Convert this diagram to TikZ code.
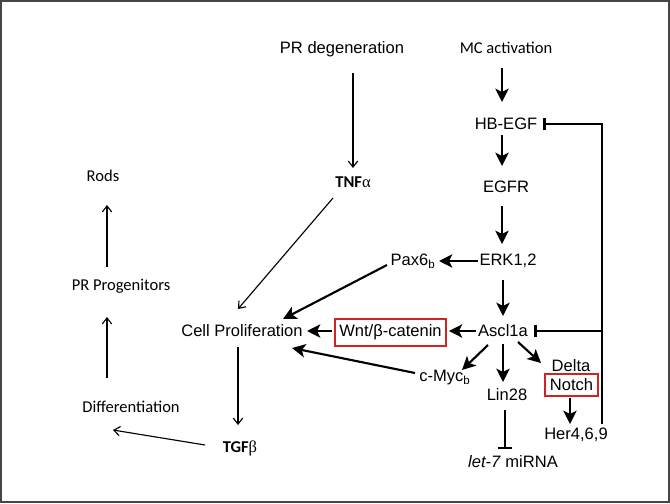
\documentclass[tikz,border=0pt]{standalone}
\usepackage{fontspec}
\setmainfont{Liberation Sans}
\newfontfamily\calfont{Carlito}
\newfontfamily\serfont{Liberation Serif}
\usetikzlibrary{arrows.meta,calc}
\definecolor{framegray}{RGB}{70,70,70}
\definecolor{boxred}{RGB}{210,35,35}
\tikzset{
  lbl/.style={inner sep=0pt, font=\fontsize{12.4pt}{14pt}\selectfont},
  clbl/.style={inner sep=0pt, font=\fontsize{12.4pt}{14pt}\selectfont\calfont},
  redbox/.style={draw=boxred, line width=1.3pt, inner sep=0pt, font=\fontsize{12.4pt}{14pt}\selectfont},
  thickarr/.style={line width=1.6pt, -{Stealth[length=10pt,width=10pt,inset=2.5pt]}},
  thinarr/.style={line width=0.85pt, -{Straight Barb[length=4.5pt,width=7pt]}},
  inhbar/.style={line width=1.6pt, -{Bar[width=9pt,line width=2.4pt]}},
  inhthin/.style={line width=1.6pt, -{Bar[width=11pt,line width=1.8pt]}},
  fbline/.style={line width=1.6pt}
}
\begin{document}
\begin{tikzpicture}[x=0.75pt,y=-0.75pt]
\useasboundingbox (0,0) rectangle (670,503);
\draw[framegray, line width=1.5pt] (1,1) rectangle (669,502);

% nodes
\node[lbl] (prd) at (342,49) {PR degeneration};
\node[clbl] (mc) at (506,48) {MC activation};
\node[lbl] (tnf) at (353,182) {{\calfont\bfseries TNF}{\serfont α}};
\node[lbl] (hb) at (506,124) {HB-EGF};
\node[lbl] (egfr) at (506,187) {EGFR};
\node[lbl] (erk) at (508,261) {ERK1,2};
\node[lbl] (pax) at (413,261) {Pax6\textsubscript{b}};
\node[lbl] (asc) at (503,331) {Ascl1a};
\node[redbox, minimum width=83.25pt, minimum height=20.25pt] (wnt) at (390.5,332.5) {Wnt/β-catenin};
\node[lbl] (cp) at (242,331) {Cell Proliferation};
\node[lbl] (myc) at (445,378) {c-Myc\textsubscript{b}};
\node[lbl] (lin) at (507,395) {Lin28};
\node[lbl] (let) at (513,462) {\textit{let-7} miRNA};
\node[lbl] (delta) at (571,366) {Delta};
\node[redbox, minimum width=39.75pt, minimum height=16.5pt] (notch) at (571.5,385) {Notch};
\node[lbl] (her) at (576,435) {Her4,6,9};
\node[lbl] (tgf) at (240,448) {{\calfont\bfseries TGF}{\serfont β}};
\node[clbl] (diff) at (131,407) {Differentiation};
\node[clbl] (prog) at (121,286) {PR Progenitors};
\node[clbl] (rods) at (103,176) {Rods};

% thin arrows
\draw[thinarr] ($(prd)+(11,24)$) -- ($(tnf)+(0,-14)$);
\draw[thinarr] ($(tnf)+(-20,16)$) -- ($(cp)+(-4,-22)$);
\draw[thinarr] ($(cp)+(-4,16)$) -- ($(tgf)+(-2,-23)$);
\draw[thinarr] ($(tgf)+(-35,-3)$) -- ($(diff)+(-18,23)$);
\draw[thinarr] ($(diff)+(-24,-29)$) -- ($(prog)+(-14,31)$);
\draw[thinarr] ($(prog)+(-14,-19)$) -- ($(rods)+(4,29)$);

% thick arrows
\draw[thickarr] ($(mc)+(-4,20)$) -- ($(hb)+(-4,-22)$);
\draw[thickarr] ($(hb)+(-4,11)$) -- ($(egfr)+(-4,-21)$);
\draw[thickarr] ($(egfr)+(-4,19)$) -- ($(erk)+(-6,-17)$);
\draw[thickarr] ($(erk)+(-30,0)$) -- ($(pax)+(26,0)$);
\draw[thickarr] ($(erk)+(-5,19)$) -- ($(asc)+(0,-15)$);
\draw[thickarr] ($(asc)+(-27,0)$) -- ($(wnt.east)+(2,-1.5)$);
\draw[thickarr] ($(wnt.west)+(-2,-1.5)$) -- ($(cp)+(65,0)$);
\draw[thickarr] ($(pax)+(-26,4)$) -- ($(cp)+(41,-12)$);
\draw[thickarr] ($(asc)+(-15,14)$) -- ($(myc)+(17,-8)$);
\draw[thickarr] ($(myc)+(-30,-5)$) -- ($(cp)+(50,17)$);
\draw[thickarr] ($(asc)+(0,13)$) -- ($(lin)+(-4,-13)$);
\draw[thickarr] ($(asc)+(15,11)$) -- ($(delta)+(-30,-3)$);
\draw[thickarr] ($(notch.south)+(-1.5,1)$) -- ($(her)+(-6,-11)$);

% inhibitions
\draw[inhthin] ($(lin)+(-2,15)$) -- ($(let)+(-8,-13)$);
\coordinate (fb) at ($(her)+(26,-11)$);
\draw[inhbar] (fb) |- ($(hb)+(37,0)$);
\draw[inhbar] ($(asc)+(99,0)$) -- ($(asc)+(31,0)$);
\end{tikzpicture}
\end{document}
